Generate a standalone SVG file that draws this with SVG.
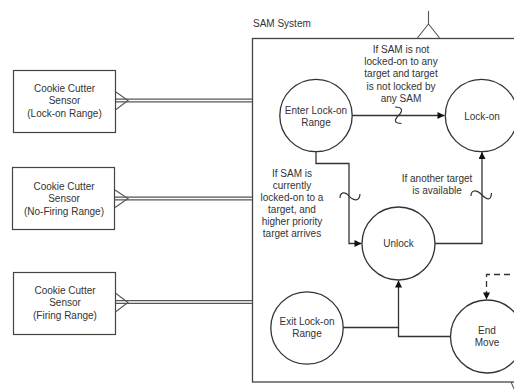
<svg xmlns="http://www.w3.org/2000/svg" width="514" height="392" viewBox="0 0 514 392">
<style>
text{font-family:"Liberation Sans",Arial,sans-serif;font-size:10px;fill:#333;text-anchor:middle}
.box{fill:#fff;stroke:#444;stroke-width:1.2}
.st{fill:#fff;stroke:#333;stroke-width:1.3}
.ln{fill:none;stroke:#333;stroke-width:1.3}
.dbo{fill:none;stroke:#555;stroke-width:4}
.dbi{fill:none;stroke:#fff;stroke-width:1.3}
.frk{fill:none;stroke:#555;stroke-width:1.1}
.frame{fill:#fff;stroke:#444;stroke-width:1.3}
.sq{fill:none;stroke:#333;stroke-width:1.2}
.dash{fill:none;stroke:#333;stroke-width:1.3;stroke-dasharray:6,4}
</style>
<defs>
<marker id="ah" viewBox="0 0 10 10" refX="10" refY="5" markerWidth="8" markerHeight="7" markerUnits="userSpaceOnUse" orient="auto">
<path d="M0,0 L10,5 L0,10 z" fill="#111"/>
</marker>
</defs>

<g id="sam-system">
<rect class="frame" x="252.5" y="38.5" width="280" height="343.5"/>
<text x="253" y="26.5" style="text-anchor:start">SAM System</text>
<path class="frk" d="M428.5,11 V24 M428.5,24 L417,38.5 M428.5,24 L440,38.5"/>
<path class="frk" d="M511,382 L515,391"/>
</g>

<g id="connectors">
<!-- sensor links -->
<path class="dbo" d="M116,100.5 H252"/><path class="dbi" d="M116,100.5 H252"/>
<path class="dbo" d="M115,198.5 H252"/><path class="dbi" d="M115,198.5 H252"/>
<path class="dbo" d="M116,302 H252"/><path class="dbi" d="M116,302 H252"/>
<path class="frk" d="M116,92 L128,100.5 L116,109.5"/>
<path class="frk" d="M115,190 L128,198.5 L115,207.5"/>
<path class="frk" d="M116,293.5 L128,302.5 L116,311.5"/>
<!-- Enter -> Lock-on -->
<path class="ln" d="M352,115.5 H444.5" marker-end="url(#ah)"/>
<path class="sq" d="M395,107 C403,107 403,111 398.5,115.5 C394,120 394,123.5 401.5,123.5"/>
<!-- Enter -> Unlock -->
<path class="ln" d="M316,151.5 V163.5 H349 V243.5 H361.5" marker-end="url(#ah)"/>
<path class="sq" d="M340,198 C340,192 345,191 349,196 C353,201 359.5,202 360,194"/>
<!-- Unlock -> Lock-on -->
<path class="ln" d="M435,243.5 H482 V152" marker-end="url(#ah)"/>
<path class="sq" d="M471,196 C471,190 476,189 482,195 C487,200 491,201 491.5,193"/>
<!-- Exit -> Unlock -->
<path class="ln" d="M343,327.5 H398.5 V280.5" marker-end="url(#ah)"/>
<!-- End Move -> Unlock -->
<path class="ln" d="M450.5,336.5 H398.5 V327.5"/>
<!-- dashed into End Move -->
<path class="dash" d="M520,274.5 H486.5 V299.5" marker-end="url(#ah)"/>
</g>

<g id="sensor-lockon">
<rect class="box" x="13.5" y="70.5" width="102" height="62"/>
<text x="64.5" y="91.5">Cookie Cutter</text>
<text x="64.5" y="104">Sensor</text>
<text x="64.5" y="116.5">(Lock-on Range)</text>
</g>
<g id="sensor-nofiring">
<rect class="box" x="12.5" y="167.5" width="102" height="62"/>
<text x="64" y="189.5">Cookie Cutter</text>
<text x="64" y="202">Sensor</text>
<text x="64" y="214.5">(No-Firing Range)</text>
</g>
<g id="sensor-firing">
<rect class="box" x="13.5" y="272.5" width="102" height="62"/>
<text x="65" y="293.5">Cookie Cutter</text>
<text x="65" y="306">Sensor</text>
<text x="65" y="318.5">(Firing Range)</text>
</g>

<g id="enter-lockon-range">
<circle class="st" cx="316" cy="115.5" r="36.2"/>
<text x="316" y="113.5">Enter Lock-on</text>
<text x="316" y="125.5">Range</text>
</g>
<g id="lock-on">
<circle class="st" cx="481.5" cy="115.5" r="36.2"/>
<text x="482" y="119.5">Lock-on</text>
</g>
<g id="unlock">
<circle class="st" cx="398.5" cy="243.5" r="36.5"/>
<text x="398.5" y="246.5">Unlock</text>
</g>
<g id="exit-lockon-range">
<circle class="st" cx="307" cy="328" r="36.2"/>
<text x="307" y="324.5">Exit Lock-on</text>
<text x="307" y="336.5">Range</text>
</g>
<g id="end-move">
<circle class="st" cx="487" cy="336.5" r="36.5"/>
<text x="487" y="333.5">End</text>
<text x="487" y="345.5">Move</text>
</g>

<g id="labels">
<text x="401" y="52.5">If SAM is not</text>
<text x="401" y="64.9">locked-on to any</text>
<text x="401" y="77.3">target and target</text>
<text x="401" y="89.7">is not locked by</text>
<text x="401" y="102.1">any SAM</text>
<text x="292" y="176.5">If SAM is</text>
<text x="292" y="188.5">currently</text>
<text x="292" y="200.5">locked-on to a</text>
<text x="292" y="212.5">target, and</text>
<text x="292" y="224.5">higher priority</text>
<text x="292" y="236.5">target arrives</text>
<text x="437" y="181.5">If another target</text>
<text x="437" y="194">is available</text>
</g>
</svg>
